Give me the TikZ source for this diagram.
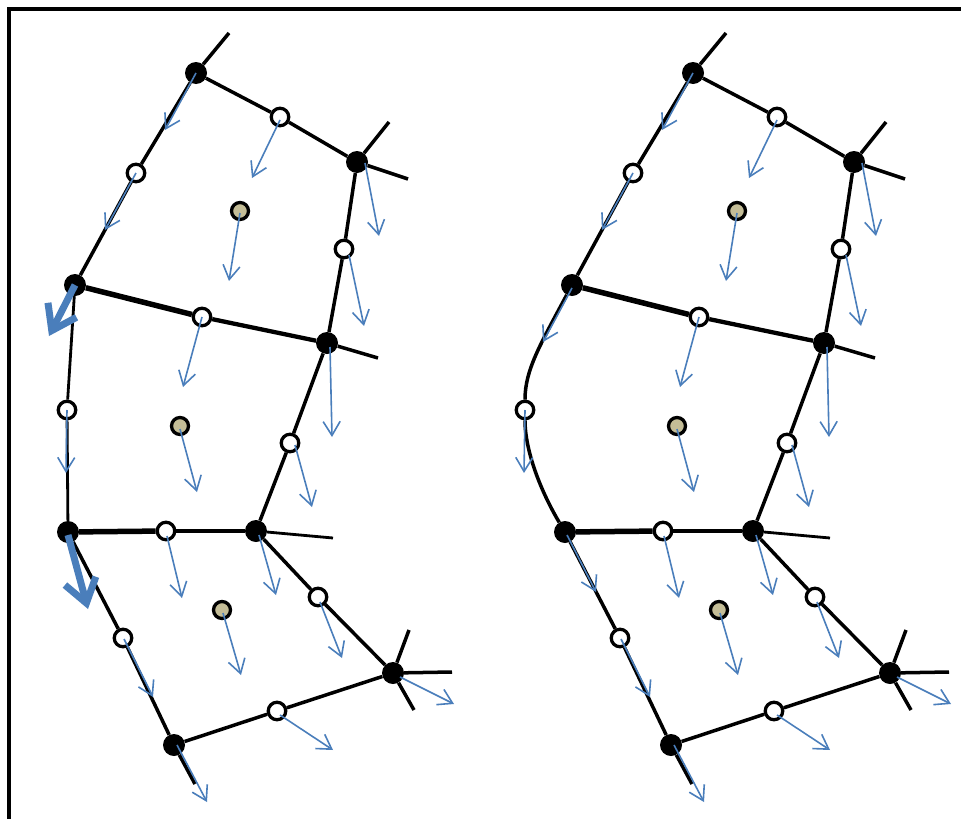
\documentclass[tikz,border=0pt]{standalone}
\usetikzlibrary{arrows.meta}
\definecolor{arrblue}{RGB}{74,126,187}
\definecolor{tanfill}{RGB}{196,189,151}
\tikzset{
 bnode/.style={circle,fill=black,minimum size=22pt,inner sep=0pt},
 wnode/.style={circle,draw=black,fill=white,line width=3.3pt,minimum size=17.5pt,inner sep=0pt},
 tnode/.style={circle,draw=black,fill=tanfill,line width=3.3pt,minimum size=17pt,inner sep=0pt},
 link/.style={line width=3.5pt},
 heavylink/.style={line width=5.5pt},
 thinlink/.style={line width=2.8pt},
 vec/.style={draw=arrblue,line width=1.6pt,-{Straight Barb[length=14pt,width=17pt]}},
 bigvec/.style={draw=arrblue,line width=7pt,-{Straight Barb[length=23pt,width=32pt]}},
 frameline/.style={line width=3.5pt}
}
\newcommand\panelnodes[1]{%
 \node[bnode] (A) at (196,73) {};
 \node[bnode] (B) at (357,162) {};
 \node[bnode] (C) at (75,285) {};
 \node[bnode] (D) at (327,343) {};
 \node[bnode] (E) at (68,532) {};
 \node[bnode] (F) at (256,531) {};
 \node[bnode] (G) at (393,673) {};
 \node[bnode] (H) at (174,745) {};
 \node[wnode] (w1) at (280,117) {};
 \node[wnode] (w2) at (136,173) {};
 \node[wnode] (w3) at (344,249) {};
 \node[wnode] (w4) at (202,317) {};
 \node[wnode] (w5) at (#1,410) {};
 \node[wnode] (w6) at (290,443) {};
 \node[wnode] (w7) at (166,531) {};
 \node[wnode] (w8) at (318,597) {};
 \node[wnode] (w9) at (123,638) {};
 \node[wnode] (w10) at (277,711) {};
 \node[tnode] (t1) at (240,211) {};
 \node[tnode] (t2) at (180,426) {};
 \node[tnode] (t3) at (222,610) {};
 \coordinate (sA) at (229,33);
 \coordinate (sB1) at (389,122);
 \coordinate (sB2) at (408,179);
 \coordinate (sD) at (378,358);
 \coordinate (sF) at (333,538);
 \coordinate (sG1) at (409,630);
 \coordinate (sG2) at (452,672);
 \coordinate (sG3) at (414,710);
 \coordinate (sH) at (195,784);
 \draw[link] (A) -- (w1);
 \draw[link] (w1) -- (B);
 \draw[link] (A) -- (w2);
 \draw[link] (w2) -- (C);
 \draw[link] (B) -- (w3);
 \draw[link] (w3) -- (D);
 \draw[heavylink] (C) -- (w4);
 \draw[line width=4.3pt] (w4) -- (D);
 \draw[link] (D) -- (w6);
 \draw[link] (w6) -- (F);
 \draw[heavylink] (E) -- (w7);
 \draw[line width=3.9pt] (w7) -- (F);
 \draw[link] (F) -- (w8);
 \draw[link] (w8) -- (G);
 \draw[link] (E) -- (w9);
 \draw[link] (w9) -- (H);
 \draw[link] (H) -- (w10);
 \draw[link] (w10) -- (G);
 \draw[link] (A) -- (sA);
 \draw[link] (B) -- (sB1);
 \draw[link] (B) -- (sB2);
 \draw[link] (D) -- (sD);
 \draw[thinlink] (F) -- (sF);
 \draw[link] (G) -- (sG1);
 \draw[link] (G) -- (sG2);
 \draw[link] (G) -- (sG3);
 \draw[link] (H) -- (sH);
}
\newcommand\panelarrows{%
 \coordinate (vA) at (165,130);
 \coordinate (vw2) at (105,230);
 \coordinate (vw1) at (252,178);
 \coordinate (vt1) at (229,281);
 \coordinate (vB) at (379,236);
 \coordinate (vw3) at (364,326);
 \coordinate (vw4) at (183,387);
 \coordinate (vD) at (332,437);
 \coordinate (vt2) at (197,492);
 \coordinate (vw6) at (312,507);
 \coordinate (vw7) at (182,598);
 \coordinate (vF) at (276,595);
 \coordinate (vt3) at (241,675);
 \coordinate (vw8) at (342,658);
 \coordinate (vw9) at (153,697);
 \coordinate (vG) at (454,704);
 \coordinate (vw10) at (333,750);
 \coordinate (vH) at (207,802);
 \draw[vec] (A.center) -- (vA);
 \draw[vec] (w2.center) -- (vw2);
 \draw[vec] ([shift={(0,3)}]w1.center) -- (vw1);
 \draw[vec] ([shift={(0,2)}]t1.center) -- (vt1);
 \draw[vec] ([shift={(8,1)}]B.center) -- (vB);
 \draw[vec] ([shift={(5,6)}]w3.center) -- (vw3);
 \draw[vec] (w4.center) -- (vw4);
 \draw[vec] ([shift={(3,4)}]D.center) -- (vD);
 \draw[vec] (w5.center) -- ([shift={(-1,63)}]w5.center);
 \draw[vec] ([shift={(0,3)}]t2.center) -- (vt2);
 \draw[vec] ([shift={(5,2)}]w6.center) -- (vw6);
 \draw[vec] ([shift={(1,5)}]w7.center) -- (vw7);
 \draw[vec] ([shift={(3,4)}]F.center) -- (vF);
 \draw[vec] ([shift={(1,3)}]t3.center) -- (vt3);
 \draw[vec] ([shift={(2,5)}]w8.center) -- (vw8);
 \draw[vec] ([shift={(1,1)}]w9.center) -- (vw9);
 \draw[vec] ([shift={(7,4)}]G.center) -- (vG);
 \draw[vec] ([shift={(3,4)}]w10.center) -- (vw10);
 \draw[vec] ([shift={(3,0)}]H.center) -- (vH);
}
\begin{document}
\begin{tikzpicture}[x=1pt,y=-1pt]
 \useasboundingbox (0,0) rectangle (961,819);
 \coordinate (f1) at (9,830);
 \coordinate (f2) at (9,9);
 \coordinate (f3) at (970,9);
 \draw[frameline] (f1) -- (f2) -- (f3);
 % left panel
 \begin{scope}[name prefix=L-]
  \panelnodes{67}
  \draw[thinlink] (C) -- (w5);
  \draw[thinlink] (w5) -- (E);
  \panelarrows
  \coordinate (vC) at (49,336);
  \coordinate (vE) at (88,609);
  \draw[bigvec] (C.center) -- (vC);
  \draw[bigvec] ([shift={(0,3)}]E.center) -- (vE);
 \end{scope}
 % right panel
 \begin{scope}[xshift=497pt,name prefix=R-]
  \panelnodes{28}
  \draw[link] (C) .. controls (43,345) and (28,370) .. (w5);
  \draw[link] (w5) .. controls (28,450) and (43,490) .. (E);
  \panelarrows
  \coordinate (vC) at (46,342);
  \coordinate (vE) at (99,592);
  \draw[vec] ([shift={(0,3)}]C.center) -- (vC);
  \draw[vec] ([shift={(2,3)}]E.center) -- (vE);
 \end{scope}
\end{tikzpicture}
\end{document}
